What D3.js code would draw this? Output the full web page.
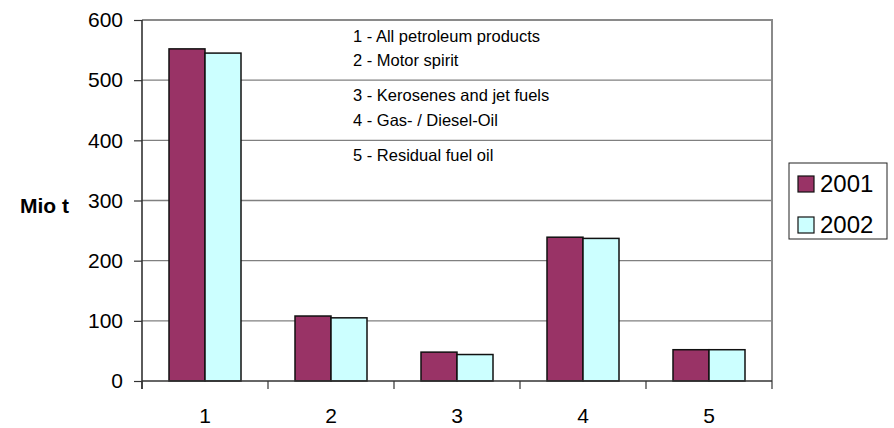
<!DOCTYPE html>
<html>
<head>
<meta charset="utf-8">
<script src="https://cdn.jsdelivr.net/npm/d3@7"></script>
<style>
  html, body { margin: 0; padding: 0; background: #fff; }
  svg { display: block; font-family: "Liberation Sans", Arial, sans-serif; }
</style>
</head>
<body>
<svg id="chart" width="894" height="428"></svg>
<script>
// ---- data ----
const categories = ["1", "2", "3", "4", "5"];
const seriesNames = ["2001", "2002"];
const values2001 = [552, 108, 48, 239, 52];
const values2002 = [545, 105, 44, 237, 52];
const yTicks = [0, 100, 200, 300, 400, 500, 600];
const noteGroups = [
  ["1 - All petroleum products", "2 - Motor spirit"],
  ["3 - Kerosenes and jet fuels", "4 - Gas- / Diesel-Oil"],
  ["5 - Residual fuel oil"]
];
const yTitle = "Mio t";
const colors = ["#993366", "#CCFFFF"];

(function () {
// ---- layout ----
const svg = d3.select("#chart");
const pLeft = 142, pRight = 772, pTop = 20, pBottom = 381;

const y = d3.scaleLinear().domain([0, 600]).range([pBottom, pTop]);
const x0 = d3.scaleBand().domain(categories).range([pLeft, pRight]).padding(0);
const x1 = d3.scaleBand().domain(seriesNames).range([0, x0.bandwidth()])
  .paddingInner(0).paddingOuter(0.75);
const color = d3.scaleOrdinal().domain(seriesNames).range(colors);

const valuesBySeries = { "2001": values2001, "2002": values2002 };
const rows = categories.map((c, i) => ({
  cat: c,
  vals: seriesNames.map(s => ({ s, v: valuesBySeries[s][i] }))
}));

// gridlines
svg.append("g")
  .selectAll("line")
  .data(yTicks.filter(t => t > 0 && t < 600))
  .join("line")
  .attr("x1", pLeft).attr("x2", pRight)
  .attr("y1", d => y(d)).attr("y2", d => y(d))
  .attr("stroke", "#808080").attr("stroke-width", 1.3);

// plot border top & right
svg.append("path")
  .attr("d", `M${pLeft},${y(600)}H${pRight}V${pBottom}`)
  .attr("fill", "none").attr("stroke", "#8a8a8a").attr("stroke-width", 2);

// bars
const groups = svg.append("g").selectAll("g")
  .data(rows).join("g")
  .attr("transform", d => `translate(${x0(d.cat)},0)`);
groups.selectAll("rect")
  .data(d => d.vals).join("rect")
  .attr("x", d => x1(d.s))
  .attr("width", x1.bandwidth())
  .attr("y", d => y(d.v))
  .attr("height", d => y(0) - y(d.v))
  .attr("fill", d => color(d.s))
  .attr("stroke", "#111").attr("stroke-width", 1.5);

// y axis
const yAxis = svg.append("g")
  .attr("transform", `translate(${pLeft},0)`)
  .call(d3.axisLeft(y).tickValues(yTicks).tickSize(8).tickPadding(11).tickSizeOuter(0));
yAxis.select(".domain").attr("stroke", "#333").attr("stroke-width", 1.6)
  .attr("d", `M0,${y(600)}V${pBottom + 8}`);
yAxis.selectAll(".tick line").attr("stroke", "#333").attr("stroke-width", 1.2);
yAxis.selectAll("text").attr("font-size", 21).attr("fill", "#000")
  .attr("font-family", "Liberation Sans, Arial, sans-serif");

// x axis
const xAxis = svg.append("g")
  .attr("transform", `translate(0,${pBottom})`)
  .call(d3.axisBottom(x0).tickSize(0).tickPadding(27));
xAxis.select(".domain").attr("stroke", "#333").attr("stroke-width", 1.6)
  .attr("d", `M${pLeft},0H${pRight}`);
xAxis.selectAll("text").attr("font-size", 21).attr("fill", "#000")
  .attr("font-family", "Liberation Sans, Arial, sans-serif");
// category boundary ticks
const boundaries = categories.map(c => x0(c)).concat([x0(categories[categories.length - 1]) + x0.bandwidth()]);
xAxis.append("g").selectAll("line")
  .data(boundaries).join("line")
  .attr("x1", d => d).attr("x2", d => d)
  .attr("y1", 0).attr("y2", 8)
  .attr("stroke", "#333").attr("stroke-width", 1.2);

// y title
svg.append("text")
  .attr("x", 69).attr("y", 213)
  .attr("text-anchor", "end")
  .attr("font-size", 21).attr("font-weight", "bold")
  .text(yTitle);

// notes text box
const notes = svg.append("g").attr("font-size", 16.5).attr("fill", "#000");
noteGroups.forEach((grp, gi) => {
  grp.forEach((line, li) => {
    notes.append("text")
      .attr("x", 353)
      .attr("y", 41.7 + gi * 59.5 + li * 24.3)
      .text(line);
  });
});

// legend
const lg = svg.append("g").attr("transform", "translate(789,163)");
lg.append("rect").attr("width", 98).attr("height", 76)
  .attr("fill", "#fff").attr("stroke", "#222").attr("stroke-width", 1);
const items = lg.selectAll("g.item").data(seriesNames).join("g")
  .attr("class", "item")
  .attr("transform", (d, i) => `translate(9,${13 + i * 41})`);
items.append("rect").attr("width", 16).attr("height", 16)
  .attr("fill", d => color(d)).attr("stroke", "#111").attr("stroke-width", 1.2);
items.append("text").attr("x", 22).attr("y", 16)
  .attr("font-size", 24).text(d => d);
})();
</script>
</body>
</html>
